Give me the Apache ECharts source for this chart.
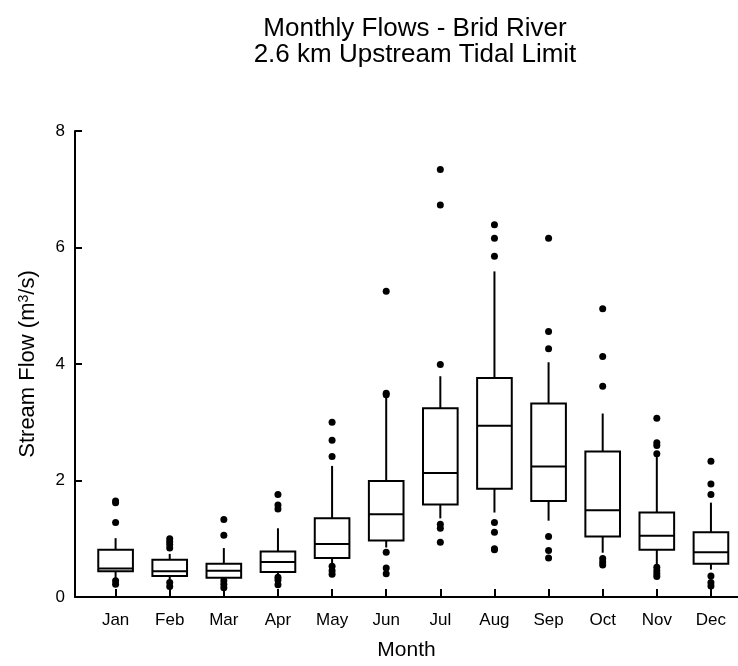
<!DOCTYPE html>
<html><head><meta charset="utf-8">
<script src="https://cdn.jsdelivr.net/npm/echarts@6/dist/echarts.min.js"></script>
<style>html,body{margin:0;padding:0;background:#fff}#c{width:738px;height:666px}</style>
</head><body><div id="c"></div>
<script>
const months = ['Jan','Feb','Mar','Apr','May','Jun','Jul','Aug','Sep','Oct','Nov','Dec'];
const monthPos = [1,2,3,4,5,6,7,8,9,10,11,12];
// [lower whisker, Q1, median, Q3, upper whisker]
const boxes = [
  [0.30, 0.44, 0.49, 0.81, 1.01],
  [0.30, 0.36, 0.44, 0.64, 0.74],
  [0.25, 0.33, 0.45, 0.57, 0.84],
  [0.38, 0.43, 0.60, 0.78, 1.18],
  [0.56, 0.67, 0.91, 1.35, 2.25],
  [0.85, 0.97, 1.42, 1.99, 3.45],
  [1.35, 1.59, 2.13, 3.24, 3.79],
  [1.45, 1.86, 2.94, 3.76, 5.59],
  [1.31, 1.65, 2.24, 3.32, 4.03],
  [0.76, 1.04, 1.49, 2.50, 3.15],
  [0.53, 0.81, 1.05, 1.45, 2.42],
  [0.47, 0.57, 0.77, 1.11, 1.62]
];
const outliers = [
  [1.65, 1.62, 1.28, 0.28, 0.22],
  [1.00, 0.95, 0.90, 0.84, 0.25, 0.18],
  [1.33, 1.06, 0.28, 0.22, 0.16],
  [1.76, 1.58, 1.51, 0.34, 0.29, 0.21],
  [3.00, 2.69, 2.41, 0.53, 0.45, 0.39],
  [5.25, 3.50, 3.47, 0.77, 0.50, 0.40],
  [7.34, 6.73, 3.99, 1.25, 1.18, 0.94],
  [6.39, 6.16, 5.85, 1.28, 1.11, 0.83, 0.81],
  [6.16, 4.56, 4.26, 1.04, 0.80, 0.67],
  [4.95, 4.13, 3.62, 0.66, 0.60, 0.55],
  [3.07, 2.65, 2.60, 2.46, 0.51, 0.45, 0.40, 0.35],
  [2.33, 1.94, 1.76, 0.36, 0.25, 0.19]
];
const yTicks = [0, 2, 4, 6, 8];

const boxData = boxes.map((b, i) => [monthPos[i]].concat(b));
const outlierPts = [];
outliers.forEach((arr, i) => arr.forEach(v => outlierPts.push([monthPos[i], v])));

const font = '"Liberation Sans", Arial, sans-serif';
const chart = echarts.init(document.getElementById('c'), null, {renderer: 'canvas'});

function renderBox(params, api) {
  const x = api.value(0);
  const low = api.coord([x, api.value(1)]);
  const q1 = api.coord([x, api.value(2)]);
  const med = api.coord([x, api.value(3)]);
  const q3 = api.coord([x, api.value(4)]);
  const high = api.coord([x, api.value(5)]);
  const w = api.size([0.64, 0])[0];
  const cx = q1[0];
  const left = cx - w / 2;
  const st = {stroke: '#000', lineWidth: 2, fill: null};
  return {
    type: 'group',
    children: [
      {type: 'line', shape: {x1: cx, y1: q3[1], x2: cx, y2: high[1]}, style: st},
      {type: 'line', shape: {x1: cx, y1: q1[1], x2: cx, y2: low[1]}, style: st},
      {type: 'rect', shape: {x: left, y: q3[1], width: w, height: q1[1] - q3[1]},
        style: {stroke: '#000', lineWidth: 2, fill: '#fff'}},
      {type: 'line', shape: {x1: left, y1: med[1], x2: left + w, y2: med[1]}, style: st}
    ]
  };
}

chart.setOption({
  animation: false,
  backgroundColor: '#fff',
  title: {
    text: 'Monthly Flows - Brid River\n2.6 km Upstream Tidal Limit',
    left: 410, top: 11, textAlign: 'center',
    textStyle: {fontFamily: font, fontSize: 26, fontWeight: 'normal', color: '#000', lineHeight: 26}
  },
  grid: {left: 75, top: 131, width: 671, height: 472, containLabel: false},
  xAxis: {
    type: 'value', min: 0.25, max: 12.5,
    name: 'Month', nameLocation: 'middle', nameGap: 43,
    nameTextStyle: {fontFamily: font, fontSize: 21, color: '#000'},
    axisLine: {show: true, lineStyle: {color: '#000', width: 2}},
    axisTick: {show: true, inside: true, length: 8, customValues: monthPos, lineStyle: {color: '#000', width: 2}},
    axisLabel: {fontFamily: font, fontSize: 17, color: '#000', margin: 15, customValues: monthPos,
      formatter: v => months[Math.round(v) - 1] || ''},
    splitLine: {show: false}
  },
  yAxis: {
    type: 'value', min: 0, max: 8, interval: 2,
    name: 'Stream Flow (m{sup|3}/s)', nameLocation: 'middle', nameGap: 36,
    nameTextStyle: {fontFamily: font, fontSize: 22, color: '#000',
      rich: {sup: {fontFamily: font, fontSize: 14, color: '#000', verticalAlign: 'top', lineHeight: 22}}},
    axisLine: {show: true, lineStyle: {color: '#000', width: 2}},
    axisTick: {show: true, inside: true, length: 7, lineStyle: {color: '#000', width: 2}},
    axisLabel: {fontFamily: font, fontSize: 17, color: '#000', margin: 10,
      formatter: v => yTicks.includes(v) ? String(v) : ''},
    splitLine: {show: false}
  },
  series: [
    {
      type: 'custom', data: boxData, renderItem: renderBox,
      encode: {x: 0, y: [1, 2, 3, 4, 5]}, z: 2
    },
    {
      type: 'scatter', data: outlierPts, symbol: 'circle', symbolSize: 7,
      itemStyle: {color: '#000', opacity: 1}, z: 3
    }
  ]
});
</script></body></html>
